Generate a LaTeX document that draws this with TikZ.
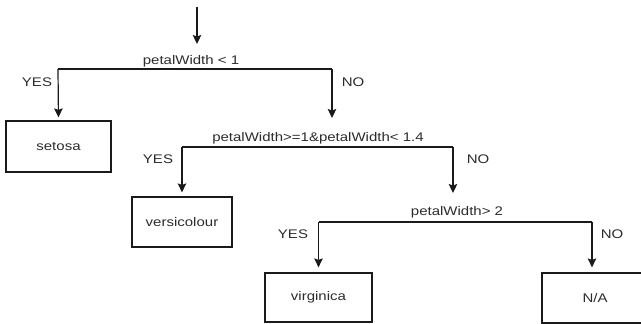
\documentclass[tikz,border=0pt]{standalone}
\usepackage{fontspec}
\setmainfont[FakeStretch=1.2]{Liberation Sans}
\usetikzlibrary{arrows.meta}
\definecolor{txt}{HTML}{2B2B2B}
\definecolor{ln}{HTML}{1A1A1A}
\tikzset{
  lbl/.style={text=txt,font=\fontsize{12.5}{14}\selectfont,inner sep=0pt,anchor=center},
  leaf/.style={draw=ln,line width=1.2pt,text=txt,font=\fontsize{12.5}{14}\selectfont,minimum width=105pt,minimum height=50pt,inner sep=0pt},
  conn/.style={draw=ln,line width=1.2pt},
  arr/.style={conn,-{Stealth[length=9pt,width=8.5pt,inset=1.5pt]}}
}
\begin{document}
\begin{tikzpicture}[x=1pt,y=-1pt]
\useasboundingbox (0,0) rectangle (641,324);
% leaves
\node[leaf,minimum width=105pt,minimum height=51pt] (setosa) at (58.5,146.5) {setosa};
\node[leaf,minimum width=100pt] (versi) at (182,222) {versicolour};
\node[leaf,minimum width=107pt,minimum height=49pt] (virg) at (318.5,297.5) {virginica};
\node[leaf,minimum width=106pt] (na) at (595,298) {N/A};
% decision labels
\node[lbl] (d1) at (191,61) {petalWidth < 1};
\node[lbl] (d2) at (318,138) {petalWidth>=1\&petalWidth< 1.4};
\node[lbl] (d3) at (457,212) {petalWidth> 2};
% branch labels
\node[lbl] (y1) at (37,82) {YES};
\node[lbl] (n1) at (353,82) {NO};
\node[lbl] (y2) at (158,159) {YES};
\node[lbl] (n2) at (478,159) {NO};
\node[lbl] (y3) at (293,234) {YES};
\node[lbl] (n3) at (612,234) {NO};
% coordinates
\coordinate (start) at (197,7);
\coordinate (in1) at (197,44);
\coordinate (d1l) at (58,69);
\coordinate (d1r) at (332,69);
\coordinate (to2) at (332,118);
\coordinate (d2l) at (182,147);
\coordinate (d2r) at (453,147);
\coordinate (to3) at (453,193);
\coordinate (d3l) at (318.5,222);
\coordinate (d3r) at (592,222);
% connectors
\draw[arr] (start) -- (in1);
\draw[conn] (d1l) -- (d1r);
\draw[arr,shorten >=3pt] (d1l) -- (setosa.north);
\draw[arr] (d1r) -- (to2);
\draw[conn] (d2l) -- (d2r);
\draw[arr,shorten >=4pt] (d2l) -- (versi.north);
\draw[arr] (d2r) -- (to3);
\draw[conn] (d3l) -- (d3r);
\draw[arr,shorten >=5pt] (d3l) -- (virg.north);
\draw[arr,shorten >=5pt] (d3r) -- (d3r |- na.north);
\end{tikzpicture}
\end{document}
